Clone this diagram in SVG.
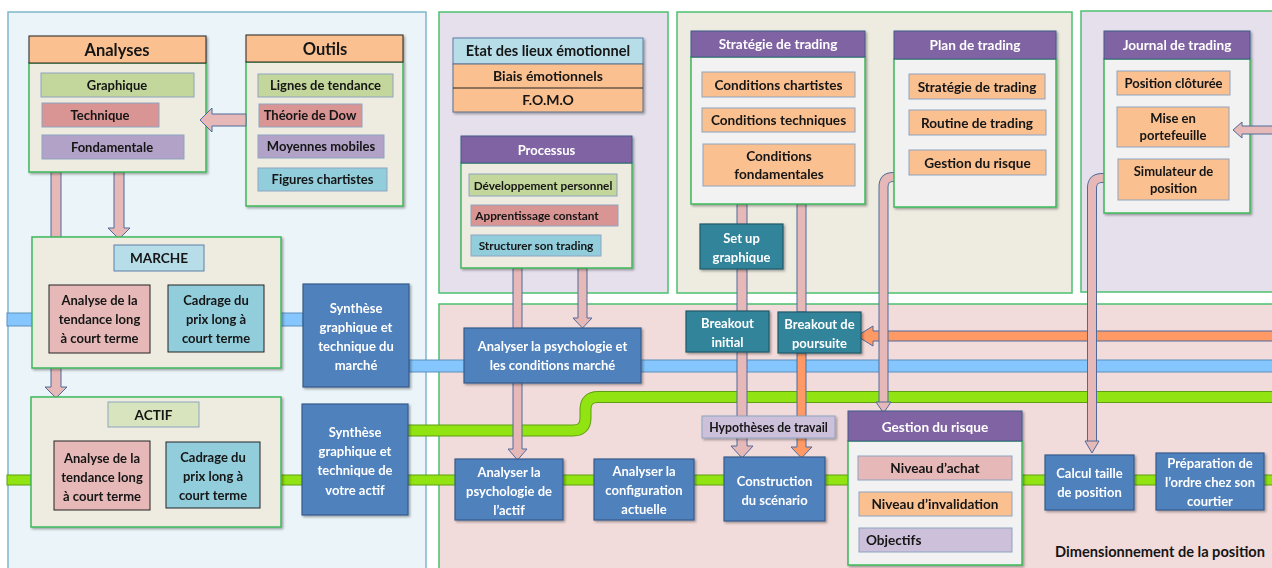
<svg xmlns="http://www.w3.org/2000/svg" width="1272" height="568" viewBox="0 0 1272 568">
<style>
.t{font-family:Lato,"Open Sans","Liberation Sans",sans-serif;font-weight:700;font-size:13px;fill:#151515;text-anchor:middle}
.w{fill:#ffffff}
.l{text-anchor:start}
.s115{font-size:11.8px}
.s12{font-size:12.3px}
.s135{font-size:13.6px}
.s14{font-size:14px}
.s145{font-size:14.6px}
.s16{font-size:16.5px}
.pBlue{fill:#EBF4F8;stroke:#7FB6CA;stroke-width:1.5}
.pLav{fill:#E5E0EC;stroke:#4CC06F;stroke-width:1.5}
.pBeige{fill:#EEECE1;stroke:#4CC06F;stroke-width:1.5}
.pPink{fill:#F2DCDB;stroke:#4CC06F;stroke-width:1.5}
.bodyB{fill:#EEECE1;stroke:#3CB85A;stroke-width:1.5}
.bodyG{fill:#F2F2F2;stroke:#3CB85A;stroke-width:1.5}
.hOr{fill:#FAC090;stroke:#222;stroke-width:1}
.hPu{fill:#8064A2;stroke:#3F5A8A;stroke-width:1}
.hLb{fill:#B7DEE8;stroke:#5F7FA8;stroke-width:1}
.iGr{fill:#C3D69B;stroke:#8EA3C0;stroke-width:1}
.iRd{fill:#D99594;stroke:#8EA3C0;stroke-width:1}
.iPu{fill:#B2A2C7;stroke:#8EA3C0;stroke-width:1}
.iBl{fill:#92CDDC;stroke:#8EA3C0;stroke-width:1}
.iOr{fill:#FAC090;stroke:#8EA3C0;stroke-width:1}
.iPk{fill:#E6B9B8;stroke:#8EA3C0;stroke-width:1}
.iLv{fill:#CCC0DA;stroke:#8EA3C0;stroke-width:1}
.iAg{fill:#D7E4BD;stroke:#8EA3C0;stroke-width:1}
.kPk{fill:#E6B9B8;stroke:#222;stroke-width:1}
.kBl{fill:#92CDDC;stroke:#222;stroke-width:1}
.bBlue{fill:#4F81BD;stroke:#385D8A;stroke-width:1.2}
.bTeal{fill:#31849B;stroke:#215968;stroke-width:1.2}
.sh{filter:url(#sh)}
.bar{fill:#E6B9B8;stroke:#4F6A9A;stroke-width:1}
.barO{fill:#FF9966;stroke:#4F6A9A;stroke-width:1}
.lineOut{fill:none;stroke-linejoin:round}
</style>
<defs>
<filter id="sh" x="-10%" y="-10%" width="130%" height="140%">
<feDropShadow dx="1.5" dy="1.5" stdDeviation="1" flood-color="#000" flood-opacity="0.35"/>
</filter>
</defs>

<g id="panels">
<rect id="panel-left" class="pBlue" x="8" y="12" width="418" height="570"/>
<rect id="panel-emotion" class="pLav" x="439" y="12" width="229" height="281"/>
<rect id="panel-strategy" class="pBeige" x="677" y="12" width="395" height="281"/>
<rect id="panel-journal" class="pLav" x="1081" y="11" width="200" height="281"/>
<rect id="panel-execution" class="pPink" x="439" y="304" width="840" height="270"/>
</g>

<g id="connectors">
<rect x="7" y="313" width="296" height="13" fill="#84C6FD" stroke="#5C8FC0" stroke-width="1"/>
<rect x="409" y="360" width="870" height="12" fill="#84C6FD" stroke="#5C8FC0" stroke-width="1"/>
<rect x="7" y="475" width="296" height="10" fill="#92E312" stroke="#5E9E12" stroke-width="1"/>
<rect x="408" y="475" width="870" height="10" fill="#92E312" stroke="#5E9E12" stroke-width="1"/>
<path class="lineOut" d="M408 430.5 H573 Q585.5 430.5 585.5 418 V409.5 Q585.5 397 598 397 H1280" stroke="#5E9E12" stroke-width="12"/>
<path class="lineOut" d="M408 430.5 H573 Q585.5 430.5 585.5 418 V409.5 Q585.5 397 598 397 H1280" stroke="#92E312" stroke-width="10"/>
<polygon class="bar" points="51,172 61,172 61,387 67,387 56,398 45,387 51,387"/>
<polygon class="bar" points="114,172 124,172 124,228 130,228 119,239 108,228 114,228"/>
<polygon class="bar" points="513,268 522,268 522,449 527,449 517.5,460 508,449 513,449"/>
<polygon class="bar" points="578,268 587,268 587,318 592,318 582.5,328 573,318 578,318"/>
<polygon class="bar" points="737,204 747,204 747,446 753,446 742,458 731,446 737,446"/>
<rect class="bar" x="797" y="204" width="9" height="108"/>
<polygon class="barO" points="797,353 806,353 806,447 812,447 801.5,458 791,447 797,447"/>
<polygon class="barO" points="1280,331 873,331 873,326 857,336 873,346 873,341 1280,341"/>
<path class="lineOut" d="M895 177 H893 Q883.5 177 883.5 187 V403" stroke="#4F6A9A" stroke-width="10"/>
<path class="lineOut" d="M896 177 H893 Q883.5 177 883.5 187 V404" stroke="#E6B9B8" stroke-width="8"/>
<polygon class="bar" points="876,402 891,402 883.5,413"/>
<path class="lineOut" d="M1104 178 H1102 Q1092 178 1092 188 V442" stroke="#4F6A9A" stroke-width="10"/>
<path class="lineOut" d="M1105 178 H1102 Q1092 178 1092 188 V443" stroke="#E6B9B8" stroke-width="8"/>
<polygon class="bar" points="1085,441 1099,441 1092,453"/>
</g>

<g id="analyses" class="sh">
<rect class="bodyB" x="29" y="63" width="177" height="109"/>
<rect class="hOr" x="29" y="36" width="177" height="27"/>
<text class="t s16" x="117" y="55.5">Analyses</text>
<rect class="iGr" x="41" y="73" width="153" height="24"/>
<text class="t" x="117" y="89.5">Graphique</text>
<rect class="iRd" x="42" y="103" width="117" height="24"/>
<text class="t" x="100" y="119.5">Technique</text>
<rect class="iPu" x="42" y="135" width="142" height="24"/>
<text class="t" x="112" y="151.5">Fondamentale</text>
</g>

<g id="outils" class="sh">
<rect class="bodyB" x="246" y="62" width="157" height="144"/>
<rect class="hOr" x="246" y="35" width="157" height="27"/>
<text class="t s16" x="325" y="54.5">Outils</text>
<rect class="iGr" x="258" y="74" width="135" height="23"/>
<text class="t" x="325.5" y="90">Lignes de tendance</text>
<rect class="iRd" x="259" y="104" width="103" height="23"/>
<text class="t" x="310" y="120">Théorie de Dow</text>
<rect class="iPu" x="258" y="135" width="126" height="23"/>
<text class="t" x="321" y="151">Moyennes mobiles</text>
<rect class="iBl" x="258" y="168" width="129" height="23"/>
<text class="t" x="322.5" y="184">Figures chartistes</text>
</g>

<g id="marche" class="sh">
<rect class="bodyB" x="32" y="237" width="249" height="131"/>
<rect class="hLb" x="114" y="245" width="90" height="26"/>
<text class="t s135" x="159" y="263">MARCHE</text>
<rect class="kPk" x="49" y="285" width="101" height="68"/>
<text class="t" x="99.5" y="305">Analyse de la</text>
<text class="t" x="99.5" y="324">tendance long</text>
<text class="t" x="99.5" y="343">à court terme</text>
<rect class="kBl" x="168" y="285" width="96" height="67"/>
<text class="t" x="216" y="305">Cadrage du</text>
<text class="t" x="216" y="324">prix long à</text>
<text class="t" x="216" y="343">court terme</text>
</g>

<g id="synthese-marche" class="sh">
<rect class="bBlue" x="303" y="284" width="106" height="103"/>
<text class="t w" x="356" y="312.5">Synthèse</text>
<text class="t w" x="356" y="331.5">graphique et</text>
<text class="t w" x="356" y="350.5">technique du</text>
<text class="t w" x="356" y="370">marché</text>
</g>

<g id="actif" class="sh">
<rect class="bodyB" x="31" y="397" width="250" height="130"/>
<rect class="iAg" x="108" y="402" width="91" height="25"/>
<text class="t s135" x="153.5" y="419.5">ACTIF</text>
<rect class="kPk" x="54" y="441" width="96" height="69"/>
<text class="t" x="102" y="462.5">Analyse de la</text>
<text class="t" x="102" y="481.5">tendance long</text>
<text class="t" x="102" y="500.5">à court terme</text>
<rect class="kBl" x="166" y="442" width="94" height="66"/>
<text class="t" x="213" y="461.5">Cadrage du</text>
<text class="t" x="213" y="480.5">prix long à</text>
<text class="t" x="213" y="499.5">court terme</text>
</g>

<g id="synthese-actif" class="sh">
<rect class="bBlue" x="302" y="404" width="106" height="111"/>
<text class="t w" x="355" y="436.5">Synthèse</text>
<text class="t w" x="355" y="455.5">graphique et</text>
<text class="t w" x="355" y="474.5">technique de</text>
<text class="t w" x="355" y="494.5">votre actif</text>
</g>

<g id="etat-emotionnel" class="sh">
<rect class="hLb" x="453" y="38" width="190" height="26"/>
<text class="t s145" x="548" y="56">Etat des lieux émotionnel</text>
<rect x="453" y="64" width="190" height="48" fill="#FAC090" stroke="#5F6F8A" stroke-width="1"/>
<line x1="453" y1="88" x2="643" y2="88" stroke="#222" stroke-width="1"/>
<text class="t s14" x="548" y="81">Biais émotionnels</text>
<text class="t s14" x="548" y="105">F.O.M.O</text>
</g>

<g id="processus" class="sh">
<rect class="bodyB" x="461" y="163" width="171" height="105"/>
<rect class="hPu" x="461" y="136" width="171" height="27"/>
<text class="t w" x="546.5" y="154.5">Processus</text>
<rect class="iGr" x="469" y="174" width="148" height="22"/>
<text class="t s115" x="543" y="189.5">Développement personnel</text>
<rect class="iRd" x="471" y="205" width="147" height="21"/>
<text class="t s115" x="537" y="220">Apprentissage constant</text>
<rect class="iBl" x="471" y="235" width="130" height="21"/>
<text class="t s115" x="536" y="250">Structurer son trading</text>
</g>

<g id="strategie" class="sh">
<rect class="bodyG" x="691" y="57" width="174" height="147"/>
<rect class="hPu" x="691" y="31" width="174" height="26"/>
<text class="t w s135" x="778" y="49">Stratégie de trading</text>
<rect class="iOr" x="702" y="72" width="153" height="25"/>
<text class="t s135" x="778.5" y="89.5">Conditions chartistes</text>
<rect class="iOr" x="702" y="108" width="153" height="24"/>
<text class="t s135" x="778.5" y="125">Conditions techniques</text>
<rect class="iOr" x="703" y="144" width="152" height="42"/>
<text class="t s135" x="779" y="160.5">Conditions</text>
<text class="t s135" x="779" y="178.5">fondamentales</text>
</g>

<g id="plan" class="sh">
<rect class="bodyG" x="894" y="59" width="162" height="148"/>
<rect class="hPu" x="894" y="31" width="162" height="28"/>
<text class="t w s135" x="975" y="50">Plan de trading</text>
<rect class="iOr" x="909" y="74" width="136" height="25"/>
<text class="t s135" x="977" y="91.5">Stratégie de trading</text>
<rect class="iOr" x="909" y="110" width="137" height="25"/>
<text class="t s135" x="977" y="127.5">Routine de trading</text>
<rect class="iOr" x="909" y="150" width="137" height="25"/>
<text class="t s135" x="977.5" y="167.5">Gestion du risque</text>
</g>

<g id="journal" class="sh">
<rect class="bodyG" x="1104" y="59" width="146" height="154"/>
<rect class="hPu" x="1104" y="31" width="146" height="28"/>
<text class="t w s135" x="1177" y="50">Journal de trading</text>
<rect class="iOr" x="1117" y="71" width="113" height="24"/>
<text class="t" x="1173.5" y="88">Position clôturée</text>
<rect class="iOr" x="1117" y="107" width="112" height="40"/>
<text class="t" x="1173" y="123">Mise en</text>
<text class="t" x="1173" y="140">portefeuille</text>
<rect class="iOr" x="1118" y="159" width="111" height="41"/>
<text class="t" x="1173.5" y="176">Simulateur de</text>
<text class="t" x="1173.5" y="193">position</text>
</g>

<g id="setup" class="sh">
<rect class="bTeal" x="700" y="224" width="83" height="45"/>
<text class="t w" x="741.5" y="242.5">Set up</text>
<text class="t w" x="741.5" y="261.5">graphique</text>
</g>

<g id="breakout-initial" class="sh">
<rect class="bTeal" x="686" y="311" width="83" height="41"/>
<text class="t w" x="727.5" y="327.5">Breakout</text>
<text class="t w" x="727.5" y="346.5">initial</text>
</g>

<g id="breakout-poursuite" class="sh">
<rect class="bTeal" x="778" y="312" width="83" height="41"/>
<text class="t w" x="819.5" y="328.5">Breakout de</text>
<text class="t w" x="819.5" y="347.5">poursuite</text>
</g>

<g id="analyser-marche" class="sh">
<rect class="bBlue" x="464" y="328" width="177" height="55"/>
<text class="t w" x="552.5" y="350.5">Analyser la psychologie et</text>
<text class="t w" x="552.5" y="369.5">les conditions marché</text>
</g>

<g id="hypotheses" class="sh">
<rect class="iLv" x="702" y="416" width="133" height="22"/>
<text class="t s12" x="768.5" y="431.5">Hypothèses de travail</text>
</g>

<g id="analyser-actif" class="sh">
<rect class="bBlue" x="455" y="459" width="108" height="61"/>
<text class="t w" x="509" y="476.5">Analyser la</text>
<text class="t w" x="509" y="495.5">psychologie de</text>
<text class="t w" x="509" y="514.5">l’actif</text>
</g>

<g id="analyser-config" class="sh">
<rect class="bBlue" x="594" y="459" width="100" height="61"/>
<text class="t w" x="644" y="475.5">Analyser la</text>
<text class="t w" x="644" y="494.5">configuration</text>
<text class="t w" x="644" y="513.5">actuelle</text>
</g>

<g id="construction" class="sh">
<rect class="bBlue" x="724" y="457" width="101" height="64"/>
<text class="t w" x="774.5" y="485.5">Construction</text>
<text class="t w" x="774.5" y="504.5">du scénario</text>
</g>

<g id="gestion-risque" class="sh">
<rect class="bodyG" x="848" y="441" width="174" height="124"/>
<rect class="hPu" x="848" y="411" width="174" height="30"/>
<text class="t w s135" x="935" y="431.5">Gestion du risque</text>
<rect class="iPk" x="858" y="456" width="154" height="24"/>
<text class="t s135" x="935" y="473">Niveau d’achat</text>
<rect class="iOr" x="859" y="492" width="153" height="24"/>
<text class="t s135" x="935" y="509">Niveau d’invalidation</text>
<rect class="iLv" x="859" y="528" width="153" height="24"/>
<text class="t l s135" x="866" y="545">Objectifs</text>
</g>

<g id="calcul-taille" class="sh">
<rect class="bBlue" x="1045" y="455" width="89" height="55"/>
<text class="t w" x="1089.5" y="477.5">Calcul taille</text>
<text class="t w" x="1089.5" y="496.5">de position</text>
</g>

<g id="preparation-ordre" class="sh">
<rect class="bBlue" x="1156" y="453" width="108" height="57"/>
<text class="t w" x="1210" y="467.5">Préparation de</text>
<text class="t w" x="1210" y="486.5">l’ordre chez son</text>
<text class="t w" x="1210" y="505.5">courtier</text>
</g>

<g id="connectors-front">
<polygon class="bar" points="246,114 212,114 212,108 200,120 212,132 212,126 246,126"/>
<polygon class="bar" points="1280,126 1242,126 1242,122 1233,130 1242,138 1242,134 1280,134"/>
</g>

<text id="label-dimensionnement" class="t s145" x="1160" y="557">Dimensionnement de la position</text>
</svg>
